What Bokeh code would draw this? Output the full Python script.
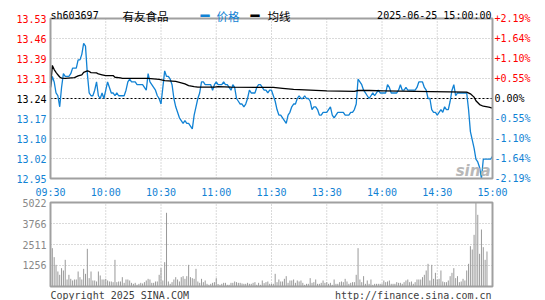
from bokeh.plotting import figure
from bokeh.models import Range1d, ColumnDataSource
from bokeh.core.properties import field, value
from bokeh.embed import file_html
from bokeh.resources import INLINE

stock_code = "sh603697"
stock_name = "有友食品"
stamp = "2025-06-25 15:00:00"
legend_price = "价格"
legend_avg = "均线"
footer_left = "Copyright 2025 SINA.COM"
footer_right = "http://finance.sina.com.cn"

prev_close = 13.24
price_low, price_high = 12.95, 13.53
time_ticks = [0, 30, 60, 90, 120, 150, 180, 210, 240]
time_labels = ["09:30", "10:00", "10:30", "11:00", "11:30", "13:30", "14:00", "14:30", "15:00"]
price_labels = ["13.53", "13.46", "13.39", "13.31", "13.24", "13.17", "13.10", "13.02", "12.95"]
pct_labels = ["+2.19%", "+1.64%", "+1.10%", "+0.55%", "0.00%", "-0.55%", "-1.10%", "-1.64%", "-2.19%"]
vol_ticks = [1256, 2511, 3766, 5022]
vol_labels = ["1256", "2511", "3766", "5022"]
vol_max = 5022

price = [
    13.28, 13.32, 13.30, 13.26, 13.25, 13.21, 13.28, 13.33, 13.32, 13.32,
    13.32, 13.33, 13.35, 13.35, 13.35, 13.38, 13.38, 13.40, 13.44, 13.43,
    13.33, 13.26, 13.25, 13.25, 13.27, 13.30, 13.25, 13.24, 13.26, 13.24,
    13.27, 13.30, 13.28, 13.26, 13.26, 13.25, 13.26, 13.25, 13.25, 13.25,
    13.25, 13.27, 13.30, 13.31, 13.30, 13.30, 13.30, 13.29, 13.29, 13.29,
    13.29, 13.28, 13.27, 13.33, 13.30, 13.29, 13.28, 13.27, 13.25, 13.24,
    13.22, 13.28, 13.34, 13.32, 13.32, 13.31, 13.29, 13.24, 13.21, 13.19,
    13.17, 13.16, 13.15, 13.16, 13.15, 13.15, 13.14, 13.13, 13.18, 13.21,
    13.24, 13.26, 13.30, 13.30, 13.29, 13.29, 13.29, 13.29, 13.27, 13.29,
    13.30, 13.29, 13.29, 13.29, 13.30, 13.29, 13.29, 13.28, 13.27, 13.29,
    13.28, 13.24, 13.23, 13.22, 13.22, 13.21, 13.22, 13.24, 13.27, 13.26,
    13.26, 13.26, 13.28, 13.29, 13.29, 13.28, 13.27, 13.27, 13.26, 13.27,
    13.27,
    13.25, 13.23, 13.20, 13.18, 13.18, 13.17, 13.16, 13.15, 13.18, 13.19,
    13.21, 13.22, 13.22, 13.24, 13.25, 13.24, 13.24, 13.25, 13.24, 13.24,
    13.23, 13.20, 13.21, 13.21, 13.20, 13.18, 13.18, 13.19, 13.19, 13.19,
    13.20, 13.21, 13.18, 13.17, 13.18, 13.19, 13.19, 13.19, 13.19, 13.18,
    13.18, 13.18, 13.19, 13.19, 13.20, 13.22, 13.31, 13.30, 13.29, 13.27,
    13.26, 13.25, 13.24, 13.25, 13.26, 13.25, 13.26, 13.27, 13.26, 13.26,
    13.26, 13.26, 13.29, 13.28, 13.26, 13.26, 13.26, 13.26, 13.27, 13.29,
    13.27, 13.27, 13.28, 13.27, 13.27, 13.27, 13.27, 13.27, 13.28, 13.30,
    13.30, 13.30, 13.28, 13.27, 13.24, 13.24, 13.20, 13.19, 13.19, 13.18,
    13.19, 13.20, 13.19, 13.21, 13.20, 13.20, 13.23, 13.27, 13.29, 13.25,
    13.26, 13.26, 13.26, 13.26, 13.26, 13.26, 13.20, 13.12, 13.09, 13.06,
    13.02, 13.01, 12.99, 12.95, 13.02, 13.02, 13.02, 13.02, 13.02, 13.03,
]

volume = [
    698, 2292, 1754, 1295, 897, 698, 1096, 957, 1594, 419,
    698, 458, 359, 419, 419, 897, 558, 419, 1056, 757,
    2252, 498, 897, 359, 359, 300, 897, 658, 419, 419,
    458, 359, 299, 299, 259, 1594, 259, 299, 299, 558,
    219, 419, 419, 359, 219, 159, 219, 100, 159, 219,
    180, 259, 359, 458, 419, 219, 219, 299, 299, 698,
    1096, 359, 1455, 4405, 299, 159, 259, 419, 558, 419,
    300, 558, 618, 458, 618, 1295, 558, 498, 458, 1056,
    299, 219, 458, 259, 359, 159, 100, 159, 219, 259,
    498, 150, 100, 159, 219, 219, 100, 100, 219, 219,
    299, 259, 219, 219, 180, 159, 159, 219, 159, 159,
    219, 259, 100, 219, 100, 359, 200, 259, 299, 159,
    159,
    159, 757, 259, 419, 299, 299, 458, 618, 219, 359,
    359, 419, 219, 359, 299, 359, 219, 100, 159, 159,
    498, 219, 259, 419, 159, 159, 219, 359, 219, 259,
    159, 219, 100, 419, 159, 159, 259, 299, 259, 458,
    299, 159, 219, 259, 259, 698, 2292, 419, 259, 618,
    159, 359, 159, 419, 100, 159, 159, 159, 159, 159,
    359, 259, 299, 359, 159, 159, 159, 259, 219, 219,
    159, 259, 359, 419, 259, 299, 159, 259, 419, 419,
    419, 558, 698, 957, 1355, 359, 1295, 458, 817, 419,
    458, 957, 299, 259, 259, 359, 618, 817, 1096, 498,
    618, 259, 299, 458, 359, 957, 1355, 2412, 2212, 3089,
    5022, 4285, 1953, 3408, 2352, 1594, 2093, 0, 0, 0,
]

avg_minute = [0, 1, 2, 3, 4, 5, 6, 8, 13, 15, 17, 18, 20, 21, 22, 25, 26, 28, 30, 34,
              35, 38, 39, 53, 56, 59, 62, 68, 71, 73, 75, 78, 80, 89, 91, 98, 121, 126, 132, 150,
              165, 167, 173, 181, 207, 226, 228, 230, 231, 233, 235, 238, 240]
avg_price = [13.28, 13.36, 13.345, 13.335, 13.326, 13.318, 13.314, 13.313, 13.316, 13.322,
             13.326, 13.335, 13.34, 13.338, 13.334, 13.333, 13.329, 13.326, 13.323, 13.323,
             13.317, 13.315, 13.313, 13.313, 13.311, 13.309, 13.305, 13.302, 13.297, 13.293,
             13.287, 13.283, 13.281, 13.281, 13.283, 13.281, 13.280, 13.277, 13.273, 13.268,
             13.266, 13.269, 13.269, 13.268, 13.265, 13.263, 13.257, 13.245, 13.232, 13.218,
             13.212, 13.209, 13.205]

minutes = list(range(len(price)))

# ---- layout (pixels) ----
W, H = 545, 300
PL, PW = 50, 442          # plot area left / width
PT, PH = 18, 160          # price panel top / height
VT, VH = 202, 84          # volume panel top / height
t_end = time_ticks[-1]

BLUE = "#1182d4"
RED = "#ff0000"
GRID = "#b4b4b4"
BORDER = "#a0a0a0"
MONO = "DejaVu Sans Mono"
CJK = "Noto Sans CJK SC"

kx = PW / t_end
ppx = (price_high - price_low) / PH
vpx = vol_max / VH
xr = Range1d(-PL / kx, (W - PL) / kx)
yr = Range1d(price_low - (H - PT - PH) * ppx, price_high + PT * ppx)
vr = Range1d(-(H - VT - VH) * vpx, vol_max + VT * vpx)

p = figure(width=W, height=H, x_range=xr, y_range=yr, output_backend="svg",
           toolbar_location=None, x_axis_location=None, y_axis_location=None,
           min_border=0)
p.outline_line_color = None
p.background_fill_color = "white"
p.border_fill_color = "white"
p.grid.visible = False
p.extra_y_ranges = {"vol": vr}

# ---- grids ----
step = (price_high - price_low) / 8
price_ticks = [price_high - i * step for i in range(9)]
inner_p = price_ticks[1:-1]
inner_t = time_ticks[1:-1]
dot = dict(line_color=GRID, line_dash="1 2", line_width=1)
p.segment(x0=[0] * len(inner_p), x1=[t_end] * len(inner_p), y0=inner_p, y1=inner_p, **dot)
p.segment(x0=inner_t, x1=inner_t, y0=[price_low] * len(inner_t), y1=[price_high] * len(inner_t), **dot)
inner_v = vol_ticks[:-1]
p.segment(x0=[0] * len(inner_v), x1=[t_end] * len(inner_v), y0=inner_v, y1=inner_v,
          y_range_name="vol", **dot)
p.segment(x0=inner_t, x1=inner_t, y0=[0] * len(inner_t), y1=[vol_max] * len(inner_t),
          y_range_name="vol", **dot)

# prev close dashed
p.segment(x0=[0], x1=[t_end], y0=[prev_close], y1=[prev_close],
          line_color="black", line_dash="2 2", line_width=1)

# ---- volume bars ----
p.segment(x0=minutes, y0=[0] * len(volume), x1=minutes, y1=volume,
          line_color="#999999", line_width=1, y_range_name="vol")

# ---- price & average ----
p.line(minutes, price, line_color=BLUE, line_width=1.3)
p.line(avg_minute, avg_price, line_color="black", line_width=1.3)

# ---- borders ----
p.quad(left=[0], right=[t_end], bottom=[price_low], top=[price_high],
       fill_color=None, line_color=BORDER, line_width=2)
p.quad(left=[0], right=[t_end], bottom=[0], top=[vol_max],
       fill_color=None, line_color=BORDER, line_width=2, y_range_name="vol")

# ---- texts ----
def texts(xs, ys, labels, colors, align, baseline, dx=0, dy=0, font=MONO, size="10px",
          rng="default", style="normal"):
    src = ColumnDataSource(dict(x=xs, y=ys, text=labels, color=colors))
    p.text(x="x", y="y", text="text", source=src, text_color=field("color"),
           text_align=align, text_baseline=baseline, x_offset=dx, y_offset=dy,
           text_font=value(font), text_font_size=value(size), text_font_style=style,
           y_range_name=rng)

colors = [RED if t > prev_close + 1e-9 else ("black" if abs(t - prev_close) < 1e-9 else BLUE)
          for t in price_ticks]
n = len(price_ticks)
texts([0] * n, price_ticks, price_labels, colors, "right", "middle", dx=-4)
texts([t_end] * n, price_ticks, pct_labels, colors, "left", "middle", dx=2)
texts(time_ticks, [price_low] * len(time_ticks), time_labels, [BLUE] * len(time_ticks),
      "center", "alphabetic", dy=14)
texts([0] * len(vol_ticks), vol_ticks, vol_labels, ["#888888"] * len(vol_ticks),
      "right", "middle", dx=-4, rng="vol")

# header
texts([0], [price_high], [stock_code], ["black"], "left", "alphabetic", dy=-3)
texts([0], [price_high], [stock_name], ["black"], "left", "alphabetic", dx=72, dy=-3,
      font=CJK, size="11.5px")
texts([0], [price_high], ["━"], [BLUE], "left", "alphabetic", dx=150, dy=-3, size="15px")
texts([0], [price_high], [legend_price], [BLUE], "left", "alphabetic", dx=166, dy=-3,
      font=CJK, size="11.5px")
texts([0], [price_high], ["━"], ["black"], "left", "alphabetic", dx=200, dy=-3, size="15px")
texts([0], [price_high], [legend_avg], ["black"], "left", "alphabetic", dx=217, dy=-3,
      font=CJK, size="11.5px")
texts([t_end], [price_high], [stamp], ["black"], "right", "alphabetic", dx=-1, dy=-3)

# watermark
texts([t_end], [price_low], ["sina"], ["#b8b8b8"], "right", "alphabetic", dx=-2, dy=-8,
      font="DejaVu Sans", size="15px", style="bold italic")

# footer
texts([0], [0], [footer_left], ["#404040"], "left", "alphabetic", dy=9, rng="vol")
texts([t_end], [0], [footer_right], ["#404040"], "right", "alphabetic", dx=-1, dy=9, rng="vol")

open("out.html", "w").write(file_html(p, INLINE))
